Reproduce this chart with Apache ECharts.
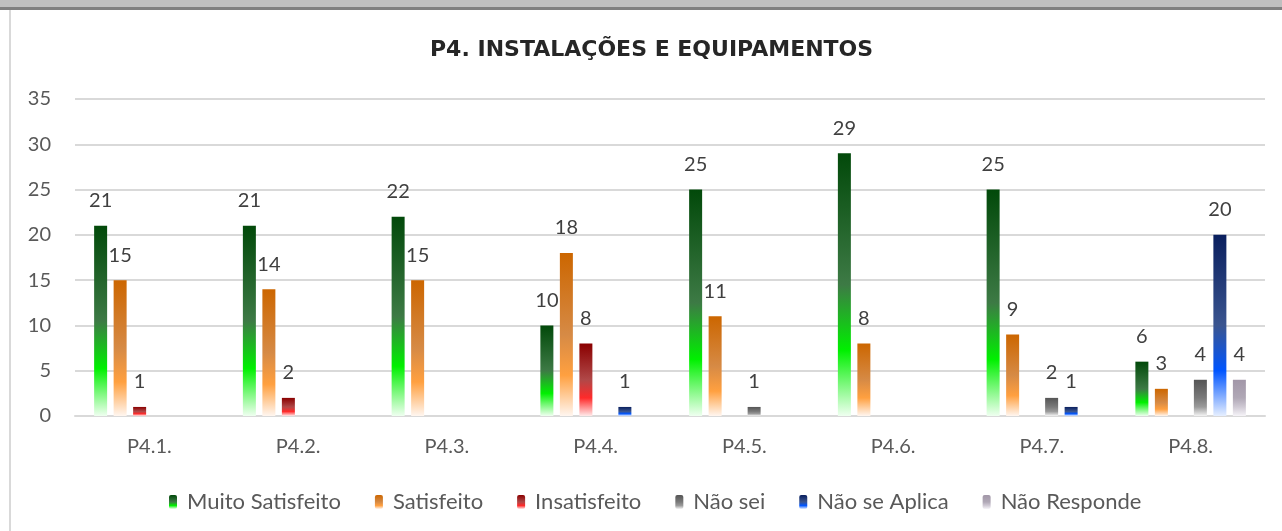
<!DOCTYPE html>
<html>
<head>
<meta charset="utf-8">
<script src="https://cdn.jsdelivr.net/npm/echarts@6/dist/echarts.min.js"></script>
<style>
  html, body { margin: 0; padding: 0; background: #fff; }
  #main { width: 1282px; height: 531px; }
</style>
</head>
<body>
<div id="main"></div>
<script>
const categories = ['P4.1.', 'P4.2.', 'P4.3.', 'P4.4.', 'P4.5.', 'P4.6.', 'P4.7.', 'P4.8.']
const seriesNames = ['Muito Satisfeito', 'Satisfeito', 'Insatisfeito', 'Não sei', 'Não se Aplica', 'Não Responde']
const muitoSatisfeito = [21, 21, 22, 10, 25, 29, 25, 6]
const satisfeito = [15, 14, 15, 18, 11, 8, 9, 3]
const insatisfeito = [1, 2, 0, 8, 0, 0, 0, 0]
const naoSei = [0, 0, 0, 0, 1, 0, 2, 4]
const naoSeAplica = [0, 0, 0, 1, 0, 0, 1, 20]
const naoResponde = [0, 0, 0, 0, 0, 0, 0, 4]
const yTicks = [0, 5, 10, 15, 20, 25, 30, 35]

// gradientes (topo -> base) de cada série
const gradStops = [
    ['#02490a', '#3d7a45', '#00f000', '#effff0'],
    ['#cc6600', '#d68a45', '#ffa040', '#fff6f0'],
    ['#8a0000', '#b04848', '#ff2a2a', '#ffeaea'],
    ['#555555', '#7a7a7a', '#9a9a9a', '#f4f4f4'],
    ['#0a1f5e', '#3a5590', '#0055ff', '#e6efff'],
    ['#a297a8', '#b0a8b6', '#cfc9d4', '#f6f4f8']
]
const allData = [muitoSatisfeito, satisfeito, insatisfeito, naoSei, naoSeAplica, naoResponde]

function makeGrad(c) {
    return new echarts.graphic.LinearGradient(0, 0, 0, 1, [
        { offset: 0, color: c[0] },
        { offset: 0.5, color: c[1] },
        { offset: 0.75, color: c[2] },
        { offset: 1, color: c[3] }
    ])
}

const font = 'Lato, "Open Sans", sans-serif'
const chart = echarts.init(document.getElementById('main'))

chart.setOption({
    backgroundColor: '#fff',
    animation: false,
    title: {
        text: 'P4. INSTALAÇÕES E EQUIPAMENTOS',
        left: 425,
        top: 34,
        textStyle: {
            color: '#262626',
            fontFamily: '"DejaVu Sans", sans-serif',
            fontSize: 22,
            fontWeight: 'bold'
        }
    },
    graphic: [
        { type: 'rect', shape: { x: 0, y: 0, width: 1282, height: 7 }, style: { fill: '#bfbfbf' }, silent: true },
        { type: 'rect', shape: { x: 0, y: 7, width: 1282, height: 3 }, style: { fill: '#7f7f7f' }, silent: true },
        { type: 'rect', shape: { x: 9, y: 10, width: 2, height: 521 }, style: { fill: '#d9d9d9' }, silent: true }
    ],
    legend: {
        bottom: 13,
        left: 164,
        itemWidth: 8,
        itemHeight: 14,
        itemGap: 34,
        data: seriesNames,
        textStyle: { color: '#595959', fontFamily: font, fontSize: 22, padding: [0, 0, 0, 5] }
    },
    grid: { left: 75, right: 17, top: 99, bottom: 115 },
    xAxis: {
        type: 'category',
        data: categories,
        axisLine: { lineStyle: { color: '#d9d9d9', width: 2 } },
        axisTick: { show: false },
        axisLabel: { color: '#595959', fontFamily: font, fontSize: 20, margin: 21 }
    },
    yAxis: {
        type: 'value',
        min: yTicks[0],
        max: yTicks[yTicks.length - 1],
        interval: 5,
        axisLine: { show: false },
        axisTick: { show: false },
        splitLine: { lineStyle: { color: '#d9d9d9', width: 2 } },
        axisLabel: { color: '#595959', fontFamily: font, fontSize: 20, margin: 24 }
    },
    series: seriesNames.map(function (name, i) {
        return {
            name: name,
            type: 'bar',
            data: allData[i],
            barWidth: 13,
            barGap: '50%',
            itemStyle: { color: makeGrad(gradStops[i]) },
            label: {
                show: true,
                position: 'top',
                distance: 15,
                color: '#404040',
                fontFamily: font,
                fontSize: 20,
                formatter: function (p) { return p.value === 0 ? '' : p.value }
            }
        }
    })
})
</script>
</body>
</html>
